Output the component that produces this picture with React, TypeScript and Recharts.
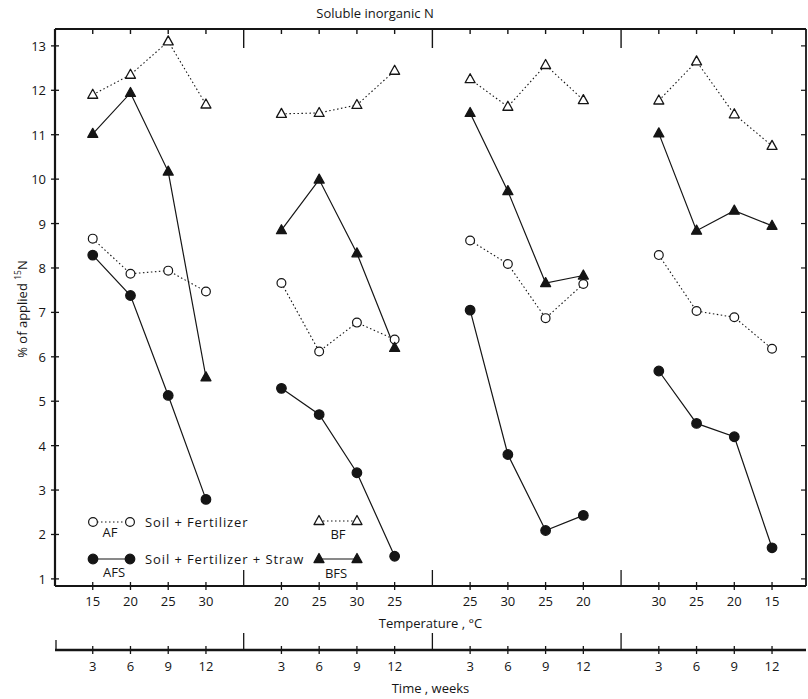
import { LineChart, Line, XAxis, YAxis } from "recharts"

const INK = "#151515"
const FONT = "'Open Sans', sans-serif"
const FS = 13

// temperature of each sampling, four panels of four samplings
const temperatureLabels = ["15", "20", "25", "30", "20", "25", "30", "25", "25", "30", "25", "20", "30", "25", "20", "15"]
const timeLabels = ["3", "6", "9", "12"]
const yTicks = [1, 2, 3, 4, 5, 6, 7, 8, 9, 10, 11, 12, 13]

// % of applied 15N
const af = [8.66, 7.87, 7.94, 7.47, 7.66, 6.12, 6.77, 6.39, 8.62, 8.09, 6.87, 7.64, 8.29, 7.03, 6.89, 6.18]
const afs = [8.29, 7.38, 5.13, 2.79, 5.29, 4.7, 3.39, 1.51, 7.05, 3.8, 2.09, 2.43, 5.68, 4.5, 4.2, 1.7]
const bf = [11.9, 12.35, 13.1, 11.68, 11.47, 11.49, 11.67, 12.44, 12.25, 11.63, 12.57, 11.78, 11.77, 12.65, 11.46, 10.75]
const bfs = [11.02, 11.94, 10.17, 5.54, 8.85, 9.99, 8.33, 6.2, 11.49, 9.73, 7.66, 7.83, 11.03, 8.84, 9.29, 8.95]

// slot 5, 10, 15 separate the panels (null rows break the lines)
const rows: any[] = []
for (let p = 0; p < 4; p++) {
  for (let i = 0; i < 4; i++) {
    const k = p * 4 + i
    rows.push({ x: p * 5 + i + 1, af: af[k], afs: afs[k], bf: bf[k], bfs: bfs[k] })
  }
  if (p < 3) rows.push({ x: p * 5 + 5, af: null, afs: null, bf: null, bfs: null })
}
const slots = rows.map((r) => r.x)
const isDivider = (x: number) => x % 5 === 0
const sampleIndex = (x: number) => x - 1 - Math.floor(x / 5)
const X_DOMAIN: [number, number] = [0, 19.9]

const Triangle = ({ cx, cy, filled }: any) => (
  <path
    d={`M${cx},${cy - 5.5} L${cx + 5},${cy + 3.5} L${cx - 5},${cy + 3.5} Z`}
    fill={filled ? INK : "#fff"}
    stroke={INK}
    strokeWidth={1.3}
    strokeLinejoin="round"
  />
)

const Circle = ({ cx, cy, filled }: any) => (
  <circle cx={cx} cy={cy} r={filled ? 4.8 : 4.4} fill={filled ? INK : "#fff"} stroke={INK} strokeWidth={1.2} />
)

const makeDot = (name: string, shape: "circle" | "triangle", filled: boolean) => (props: any) => {
  const { cx, cy, index, value } = props
  const key = `${name}-${index}`
  if (value == null || cx == null || cy == null) return <g key={key} />
  return (
    <g key={key}>
      {shape === "circle" ? <Circle cx={cx} cy={cy} filled={filled} /> : <Triangle cx={cx} cy={cy} filled={filled} />}
    </g>
  )
}

const txt = { fontSize: FS, fill: INK, fontFamily: FONT }
const keyTxt = { ...txt, letterSpacing: 0.9 }

const LeftTick = ({ x, y, payload }: any) => (
  <g>
    <line x1={x - 4} x2={x + 4} y1={y} y2={y} stroke={INK} strokeWidth={1.3} />
    <text x={x - 9} y={y} textAnchor="end" dominantBaseline="central" {...txt}>
      {payload.value}
    </text>
  </g>
)

const RightTick = ({ x, y }: any) => <line x1={x - 5} x2={x} y1={y} y2={y} stroke={INK} strokeWidth={1.2} />

const TopTick = ({ x, y, payload }: any) => (
  <line x1={x} x2={x} y1={y} y2={y + (isDivider(payload.value) ? 19 : 5)} stroke={INK} strokeWidth={1.4} />
)

const TempTick = ({ x, y, payload }: any) => {
  const v = payload.value
  if (isDivider(v)) return <line x1={x} x2={x} y1={y - 16} y2={y} stroke={INK} strokeWidth={1.3} />
  return (
    <g>
      <line x1={x} x2={x} y1={y - 4} y2={y + 4} stroke={INK} strokeWidth={1.3} />
      <text x={x} y={y + 15} textAnchor="middle" dominantBaseline="central" {...txt}>
        {temperatureLabels[sampleIndex(v)]}
      </text>
    </g>
  )
}

const TimeTick = ({ x, y, payload }: any) => {
  const v = payload.value
  if (v === 0) return <line x1={x + 1} x2={x + 1} y1={y - 10} y2={y} stroke={INK} strokeWidth={1.3} />
  if (isDivider(v)) return <line x1={x} x2={x} y1={y - 17} y2={y} stroke={INK} strokeWidth={1.3} />
  return (
    <g>
      <line x1={x} x2={x} y1={y - 4} y2={y + 4} stroke={INK} strokeWidth={1.3} />
      <text x={x} y={y + 16} textAnchor="middle" dominantBaseline="central" {...txt}>
        {timeLabels[sampleIndex(v) % 4]}
      </text>
    </g>
  )
}

function Overlay() {
  return (
    <svg width={808} height={699} style={{ position: "absolute", left: 0, top: 0, pointerEvents: "none" }}>
      <text x={375} y={13} textAnchor="middle" dominantBaseline="central" {...txt}>
        Soluble inorganic N
      </text>
      <text transform="translate(22,309) rotate(-90)" textAnchor="middle" dominantBaseline="central" {...txt}>
        % of applied <tspan fontSize={8.5} dy={-5}>15</tspan>
        <tspan dy={5}>N</tspan>
      </text>

      {/* key */}
      <line x1={93} x2={130} y1={522} y2={522} stroke={INK} strokeWidth={1.1} strokeDasharray="1.5 2.5" />
      <Circle cx={93} cy={522} filled={false} />
      <Circle cx={130} cy={522} filled={false} />
      <text x={110} y={532} textAnchor="middle" dominantBaseline="central" {...txt}>AF</text>
      <text x={145} y={522} dominantBaseline="central" {...keyTxt}>Soil + Fertilizer</text>

      <line x1={319} x2={357} y1={521} y2={521} stroke={INK} strokeWidth={1.1} strokeDasharray="1.5 2.5" />
      <Triangle cx={319} cy={521} filled={false} />
      <Triangle cx={357} cy={521} filled={false} />
      <text x={338} y={534} textAnchor="middle" dominantBaseline="central" {...txt}>BF</text>

      <line x1={93} x2={130} y1={559} y2={559} stroke={INK} strokeWidth={1.2} />
      <Circle cx={93} cy={559} filled />
      <Circle cx={130} cy={559} filled />
      <text x={114} y={572} textAnchor="middle" dominantBaseline="central" {...txt}>AFS</text>
      <text x={145} y={559} dominantBaseline="central" {...keyTxt}>Soil + Fertilizer + Straw</text>

      <line x1={319} x2={357} y1={559} y2={559} stroke={INK} strokeWidth={1.2} />
      <Triangle cx={319} cy={559} filled />
      <Triangle cx={357} cy={559} filled />
      <text x={336} y={573} textAnchor="middle" dominantBaseline="central" {...txt}>BFS</text>
    </svg>
  )
}

export default function App() {
  return (
    <div style={{ position: "absolute", left: 0, top: 0, width: 808, height: 699, background: "#fff" }}>
      <LineChart width={808} height={699} data={rows} margin={{ top: 28, right: 1, bottom: 0, left: 0 }}>
        <XAxis
          dataKey="x"
          type="number"
          domain={X_DOMAIN}
          allowDataOverflow
          ticks={slots}
          interval={0}
          height={64}
          tickSize={0}
          tickMargin={0}
          tickLine={false}
          tick={TempTick}
          axisLine={{ stroke: INK, strokeWidth: 2.2 }}
          label={{ value: "Temperature , °C", position: "insideBottom", offset: 22, fontSize: FS, fill: INK, fontFamily: FONT }}
        />
        <XAxis
          xAxisId="time"
          dataKey="x"
          type="number"
          domain={X_DOMAIN}
          allowDataOverflow
          ticks={[0, ...slots]}
          interval={0}
          height={49}
          tickSize={0}
          tickMargin={0}
          tickLine={false}
          tick={TimeTick}
          axisLine={{ stroke: INK, strokeWidth: 2.4 }}
          label={{ value: "Time , weeks", position: "insideBottom", offset: 6, fontSize: FS, fill: INK, fontFamily: FONT }}
        />
        <XAxis
          xAxisId="top"
          orientation="top"
          dataKey="x"
          type="number"
          domain={X_DOMAIN}
          allowDataOverflow
          ticks={slots}
          interval={0}
          height={1}
          tickSize={0}
          tickMargin={0}
          tickLine={false}
          tick={TopTick}
          axisLine={{ stroke: INK, strokeWidth: 1.8 }}
        />
        <YAxis
          type="number"
          domain={[0.84, 13.38]}
          allowDataOverflow
          ticks={yTicks}
          interval={0}
          width={55}
          tickSize={0}
          tickMargin={0}
          tickLine={false}
          tick={LeftTick}
          axisLine={{ stroke: INK, strokeWidth: 2.2 }}
        />
        <YAxis
          yAxisId="right"
          orientation="right"
          type="number"
          domain={[0.84, 13.38]}
          allowDataOverflow
          ticks={yTicks}
          interval={0}
          width={1}
          tickSize={0}
          tickMargin={0}
          tickLine={false}
          tick={RightTick}
          axisLine={{ stroke: INK, strokeWidth: 1.8 }}
        />
        <Line dataKey="bf" stroke={INK} strokeWidth={1.1} strokeDasharray="1.5 2.5" dot={makeDot("bf", "triangle", false)} activeDot={false} isAnimationActive={false} />
        <Line dataKey="af" stroke={INK} strokeWidth={1.1} strokeDasharray="1.5 2.5" dot={makeDot("af", "circle", false)} activeDot={false} isAnimationActive={false} />
        <Line dataKey="bfs" stroke={INK} strokeWidth={1.2} dot={makeDot("bfs", "triangle", true)} activeDot={false} isAnimationActive={false} />
        <Line dataKey="afs" stroke={INK} strokeWidth={1.2} dot={makeDot("afs", "circle", true)} activeDot={false} isAnimationActive={false} />
      </LineChart>
      <Overlay />
    </div>
  )
}
